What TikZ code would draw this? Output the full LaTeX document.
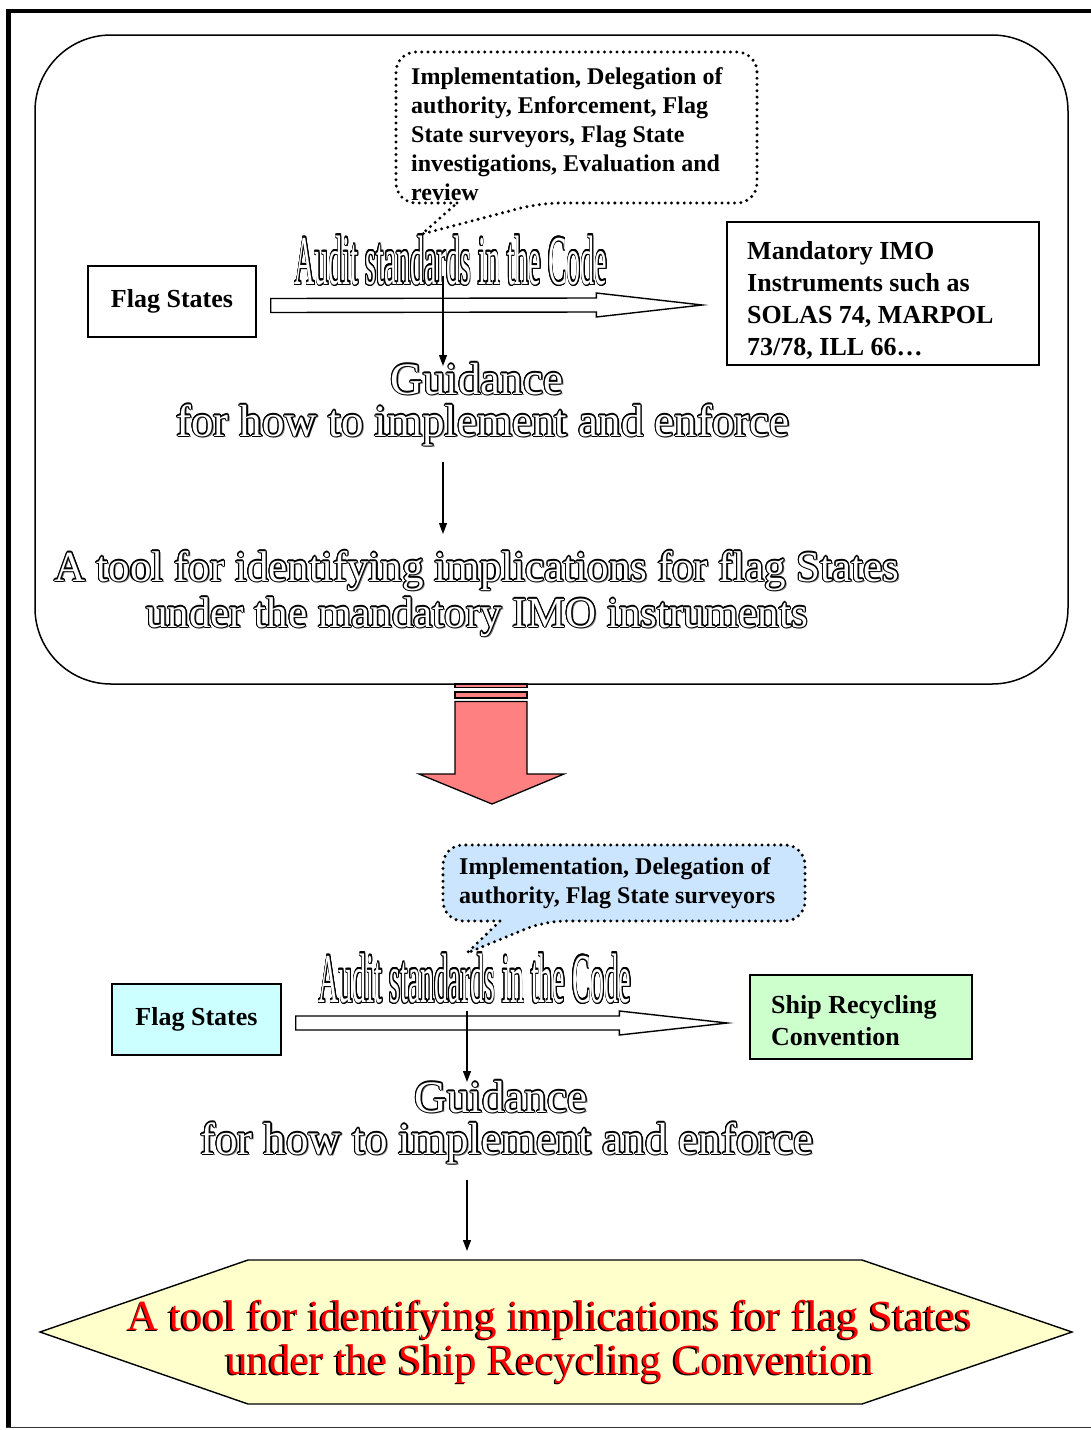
\documentclass[tikz,border=0pt]{standalone}
\usepackage{fontspec}
\setmainfont{Liberation Serif}
\usepackage{graphicx}
\usepackage{contour}
\usetikzlibrary{arrows.meta,calc}

\definecolor{salmonred}{RGB}{255,128,128}
\definecolor{paleyellow}{RGB}{255,255,204}
\definecolor{paleblue}{RGB}{204,229,255}
\definecolor{palecyan}{RGB}{204,255,255}
\definecolor{palegreen}{RGB}{204,255,204}

\contourlength{1.05pt}
% white letters with a black outline and a grey drop shadow
\newcommand\hollowtxt[1]{\makebox[0pt][l]{\hspace{1.8pt}\raisebox{-1.8pt}{\textcolor{black!55}{#1}}}\textcolor{white}{\contour{black}{#1}}}
% red letters with a black drop shadow
\newcommand\redtxt[1]{\makebox[0pt][l]{\hspace{-1.6pt}\raisebox{-1.6pt}{\textcolor{black}{#1}}}\textcolor{red}{#1}}

\tikzset{
  box/.style={draw, line width=1.4pt, inner sep=0pt},
  boxfont/.style={font=\fontsize{26}{32}\selectfont\bfseries},
  notefont/.style={font=\fontsize{24}{29}\selectfont\bfseries},
  bigfont/.style={font=\fontsize{43}{43}\selectfont, inner sep=0pt},
  midfont/.style={font=\fontsize{45}{45}\selectfont, inner sep=0pt},
  auditfont/.style={font=\fontsize{70}{70}\selectfont, inner sep=0pt},
  callout/.style={line width=3.3pt, dash pattern=on 0pt off 6.3pt, line cap=round, rounded corners=20pt},
  hollowarrow/.style={draw, fill=white, line width=1.4pt, line join=miter},
  thinarrow/.style={line width=1.2pt, -{Triangle[length=11pt,width=8pt]}},
}

\begin{document}
\begin{tikzpicture}[x=1pt,y=-1pt]
\useasboundingbox (0,0) rectangle (1091,1430);

% page frame
\draw[line width=4pt] (7,11) -- (1091,11);
\draw[line width=4.5pt] (8.5,9) -- (8.5,1428);
\draw[line width=1.6pt, black!80] (6,1427.5) -- (1091,1427.5);

% ---------- upper panel ----------
\draw[line width=1.5pt, rounded corners=76pt] (35,35) rectangle (1068,684);

% callout for the audit areas
\draw[callout] (457,203) -- (396,203) -- (396,52) -- (757,52) -- (757,203) -- (540,203) [sharp corners] -- (422,234) -- cycle;
\node[notefont, anchor=north west, align=left, inner sep=0pt] (note1) at (411,67.5)
  {Implementation, Delegation of\\authority, Enforcement, Flag\\State surveyors, Flag State\\investigations, Evaluation and\\review};

\node[box, boxfont, minimum width=168pt, minimum height=71pt] (fs1) at (172,301.5) {Flag States};
\node[box, minimum width=312pt, minimum height=143pt] (imo) at (883,293.5) {};
\node[boxfont, anchor=north west, align=left, inner sep=0pt] (imotext) at (747,241)
  {Mandatory IMO\\Instruments such as\\SOLAS 74, MARPOL\\73/78, ILL 66\ldots};

% hollow arrow from the flag State towards the instruments
\coordinate (h1s) at ($(fs1.east)+(14,4)$);
\coordinate (h1t) at ($(imo.west)+(-24,11.5)$);
\path[hollowarrow] (h1s) ++(0,-7) -- ($(h1t)+(-106,-7)$) -- ++(0,-5) -- (h1t) -- ($(h1t)+(-106,12)$) -- ++(0,-5) -- ($(h1s)+(0,7)$) -- cycle;

\node[auditfont] (audit1) at (451,261) {\scalebox{0.40}[1]{\contourlength{1.6pt}\hollowtxt{Audit standards in the Code}}};

\node[midfont, anchor=base] (guid1) at (477,394) {\hollowtxt{Guidance}};
\node[midfont, anchor=base] (how1) at (483,436) {\hollowtxt{for how to implement and enforce}};
\node[bigfont, anchor=base] (tool1) at (477,581) {\hollowtxt{A tool for identifying implications for flag States}};
\node[bigfont, anchor=base] (under1) at (477,627) {\hollowtxt{under the mandatory IMO instruments}};

\coordinate (v1a) at (443,276);
\coordinate (v1b) at (443,366);
\coordinate (v2a) at (443,462);
\coordinate (v2b) at (443,534);
\draw[thinarrow] (v1a) -- (v1b);
\draw[thinarrow] (v2a) -- (v2b);

% ---------- transition arrow ----------
\draw[fill=salmonred, line width=1.3pt] (455,684) rectangle (527,687.5);
\draw[fill=salmonred, line width=1.3pt] (455,692) rectangle (527,698);
\draw[fill=salmonred, line width=1.3pt, line join=miter]
  (455,701.5) -- (527,701.5) -- (527,774) -- (564,774) -- (492,804) -- (419,774) -- (455,774) -- cycle;

% ---------- lower panel ----------
\draw[callout, fill=paleblue] (500,921) -- (443,921) -- (443,845) -- (805,845) -- (805,921) -- (545,921) [sharp corners] -- (467,953) -- cycle;
\node[notefont, anchor=north west, align=left, inner sep=0pt] (note2) at (459,857.5)
  {Implementation, Delegation of\\authority, Flag State surveyors};

\node[box, boxfont, fill=palecyan, minimum width=169pt, minimum height=71pt] (fs2) at (196.5,1019.5) {Flag States};
\node[box, fill=palegreen, minimum width=222pt, minimum height=84pt] (src) at (861,1017) {};
\node[boxfont, anchor=north west, align=left, inner sep=0pt] (srctext) at (771,995)
  {Ship Recycling\\Convention};

\coordinate (h2s) at ($(fs2.east)+(14,3.5)$);
\coordinate (h2t) at ($(src.west)+(-22,6)$);
\path[hollowarrow] (h2s) ++(0,-7) -- ($(h2t)+(-108,-7)$) -- ++(0,-5) -- (h2t) -- ($(h2t)+(-108,12)$) -- ++(0,-5) -- ($(h2s)+(0,7)$) -- cycle;

\node[auditfont] (audit2) at (475,979) {\scalebox{0.40}[1]{\contourlength{1.6pt}\hollowtxt{Audit standards in the Code}}};

\node[midfont, anchor=base] (guid2) at (501,1112) {\hollowtxt{Guidance}};
\node[midfont, anchor=base] (how2) at (507,1154) {\hollowtxt{for how to implement and enforce}};

\coordinate (v3a) at (467,1011);
\coordinate (v3b) at (467,1082);
\coordinate (v4a) at (467,1180);
\coordinate (v4b) at (467,1251);
\draw[thinarrow] (v3a) -- (v3b);
\draw[thinarrow] (v4a) -- (v4b);

% result hexagon
\draw[fill=paleyellow, line width=1.4pt, line join=miter]
  (40,1332) -- (248,1260) -- (862,1260) -- (1072,1332) -- (862,1404) -- (248,1404) -- cycle;
\node[bigfont, anchor=base] (tool2) at (550,1330) {\redtxt{A tool for identifying implications for flag States}};
\node[bigfont, anchor=base] (under2) at (550,1374) {\redtxt{under the Ship Recycling Convention}};

\end{tikzpicture}
\end{document}
